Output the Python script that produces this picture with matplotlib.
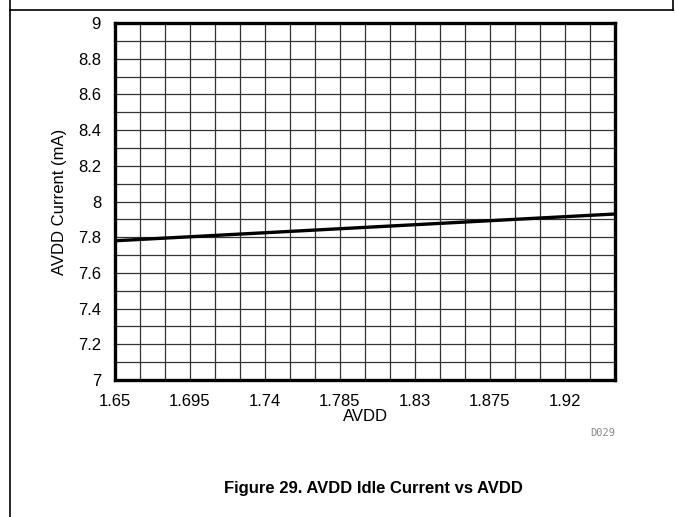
import matplotlib.pyplot as plt
import numpy as np
from matplotlib.lines import Line2D

# AVDD supply voltage (V) and idle current (mA)
avdd = [1.65, 1.70, 1.75, 1.80, 1.85, 1.90, 1.95]
current_ma = [7.780, 7.805, 7.830, 7.855, 7.880, 7.905, 7.930]

x_ticks = [1.65, 1.695, 1.74, 1.785, 1.83, 1.875, 1.92]
x_tick_labels = ["1.65", "1.695", "1.74", "1.785", "1.83", "1.875", "1.92"]
y_ticks = [7, 7.2, 7.4, 7.6, 7.8, 8, 8.2, 8.4, 8.6, 8.8, 9]
y_tick_labels = ["7", "7.2", "7.4", "7.6", "7.8", "8", "8.2", "8.4", "8.6", "8.8", "9"]

plt.rcParams.update({
    "font.family": ["Liberation Sans", "DejaVu Sans"],
    "font.size": 12,
})

W, H = 675, 517
fig = plt.figure(figsize=(W / 100, H / 100), dpi=100)
ax = fig.add_axes([115 / W, 1 - 380 / H, 500 / W, 357 / H])

ax.plot(avdd, current_ma, color="black", linewidth=2.4, zorder=3, solid_capstyle="butt")

ax.set_xlim(1.65, 1.95)
ax.set_ylim(7, 9)
ax.set_xticks(x_ticks)
ax.set_xticklabels(x_tick_labels)
ax.set_yticks(y_ticks)
ax.set_yticklabels(y_tick_labels)
ax.set_xticks(np.arange(1.65, 1.9501, 0.015), minor=True)
ax.set_yticks(np.arange(7, 9.001, 0.1), minor=True)
ax.tick_params(which="both", length=0)
ax.tick_params(axis="x", pad=10)
ax.tick_params(axis="y", pad=10)
ax.grid(which="both", color="#333333", linewidth=0.9)
ax.set_axisbelow(True)
for spine in ax.spines.values():
    spine.set_linewidth(2.4)
    spine.set_color("black")

ax.set_xlabel("AVDD", labelpad=0)
ax.set_ylabel("AVDD Current (mA)", labelpad=8)

# page frame lines from the datasheet layout
fig.add_artist(Line2D([10 / W, 10 / W], [0, 1], color="black", linewidth=1.2))
fig.add_artist(Line2D([673 / W, 673 / W], [1 - 10 / H, 1], color="black", linewidth=1.2))
fig.add_artist(Line2D([10 / W, 673 / W], [1 - 10 / H, 1 - 10 / H], color="black", linewidth=1.2))

fig.text(603 / W, 1 - 433 / H, "D029", color="#888888", fontsize=7.5,
         family="DejaVu Sans Mono", ha="center", va="center")
fig.text(373 / W, 1 - 488 / H, "Figure 29. AVDD Idle Current vs AVDD",
         fontsize=12, fontweight="bold", ha="center", va="center")

fig.savefig("out.png", dpi=100)
